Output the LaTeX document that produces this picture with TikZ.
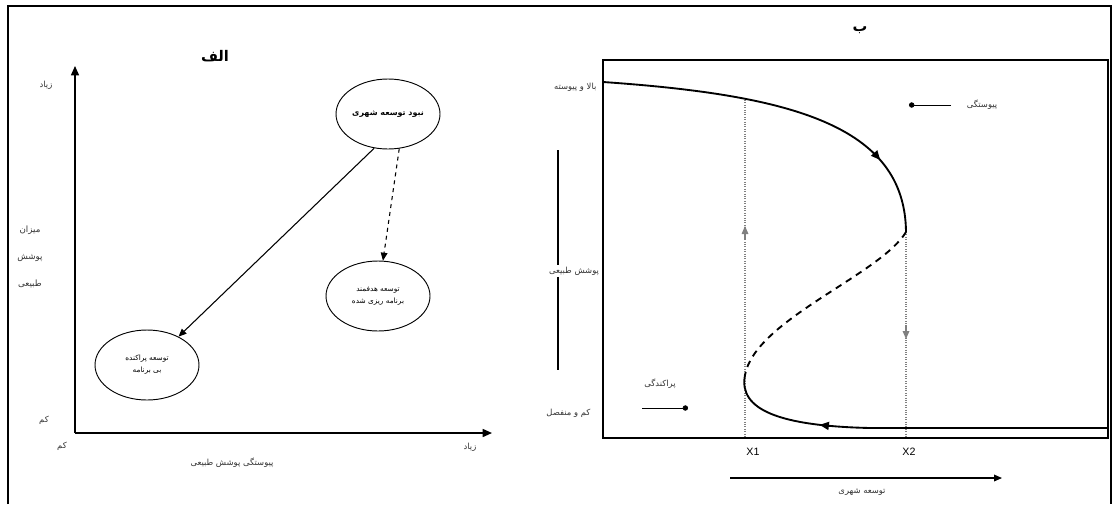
\documentclass[tikz,border=0pt]{standalone}
\usepackage{fontspec}
\setmainfont{Liberation Sans}
\newfontfamily\fa[Script=Arabic]{DejaVu Sans}
\TeXXeTstate=1
\usetikzlibrary{arrows.meta,shapes.geometric,decorations.markings}
\newcommand{\fat}[1]{{\fa\beginR #1\endR}}
\begin{document}
\begin{tikzpicture}[x=0.75pt,y=-0.75pt,
  lbl/.style={font=\fontsize{6.3}{8}\selectfont, inner sep=1pt, text=black!80},
  ttl/.style={font=\fontsize{11}{13}\bfseries\selectfont, inner sep=1pt},
  ell/.style={ellipse, draw, line width=0.7pt, minimum width=104*0.75pt, minimum height=70*0.75pt, align=center, font=\fontsize{5.5}{9}\selectfont, inner sep=0pt},
  axis/.style={line width=1.1pt, -{Triangle[length=7pt,width=6pt]}},
  conn/.style={line width=0.8pt, -{Triangle[length=6pt,width=5pt]}},
  curve/.style={line width=1.4pt},
  guide/.style={gray, line width=0.8pt, densely dotted},
  ghead/.style={gray, -{Triangle[length=6pt,width=5pt]}, line width=0.8pt}
]
\useasboundingbox (0,0) rectangle (1112,504);
% outer frame
\draw[line width=1.4pt] (8,504) -- (8,6) -- (1112,6);
\draw[line width=1.4pt] (1111,6) -- (1111,504);

% ---------- panel a ----------
\node[ttl] (ta) at (215,56) {\fat{الف}};
\coordinate (O) at (75,433);
\coordinate (Ytip) at (75,66);
\coordinate (Xtip) at (492,433);
\draw[axis] (O) -- (Ytip);
\draw[axis] (O) -- (Xtip);
\node[lbl] (yhigh) at (46,85) {\fat{زیاد}};
\node[lbl] (ylow) at (44,420) {\fat{کم}};
\node[lbl] (xlow) at (62,446) {\fat{کم}};
\node[lbl] (xhigh) at (470,447) {\fat{زیاد}};
\node[lbl] (xlab) at (232,463) {\fat{پیوستگی پوشش طبیعی}};
\node[lbl, align=center, font=\fontsize{6.5}{20}\selectfont] (ylab) at (30,257) {\fat{میزان}\\\fat{پوشش}\\\fat{طبیعی}};

\node[ell, font=\fontsize{6}{9}\bfseries\selectfont] (top) at (388,114) {\fat{نبود توسعه شهری}};
\node[ell] (mid) at (378,296) {\fat{توسعه هدفمند}\\\fat{برنامه ریزی شده}};
\node[ell] (bot) at (147,365) {\fat{توسعه پراکنده}\\\fat{بی برنامه}};
\draw[conn] (top.-112) -- (bot.42);
\draw[conn, dashed] (top.-72) -- (mid.82);

% ---------- panel b ----------
\node[ttl] (tb) at (860,30) {\fat{ب}};
\draw[line width=1.3pt] (603,60) -- (603,438) -- (1108,438) -- (1108,60) -- cycle;

\node[lbl, anchor=east] (hi) at (598,87) {\fat{بالا و پیوسته}};
\node[lbl] (nat) at (574,271) {\fat{پوشش طبیعی}};
\node[lbl, anchor=east] (lo) at (592,413) {\fat{کم و منفصل}};
\coordinate (va) at (558,150);
\coordinate (vb) at (558,370);
\draw[line width=1.6pt] (va) -- (nat.north -| va);
\draw[line width=1.6pt] (nat.south -| vb) -- (vb);

% legend
\node[lbl] (cont) at (982,105) {\fat{پیوستگی}};
\coordinate (contA) at (909,105);
\draw[line width=0.5pt, -{Circle[length=4pt]}] (cont.west) ++(-14,0) coordinate (contB) -- (contA);
\node[lbl] (disp) at (660,384) {\fat{پراکندگی}};
\coordinate (dispA) at (642,408);
\coordinate (dispB) at (688,408);
\draw[line width=0.5pt, -{Circle[length=4pt]}] (dispA) -- (dispB);

% guides
\coordinate (g1t) at (745,100);
\coordinate (g1b) at (745,437);
\coordinate (g2t) at (906,232);
\coordinate (g2b) at (906,437);
\draw[guide] (g1t) -- (g1b);
\draw[guide] (g2t) -- (g2b);
\draw[ghead] (745,240) -- (745,226);
\draw[ghead] (906,325) -- (906,339);

% curve
\coordinate (c0) at (603,82);
\coordinate (c1) at (906,232);
\coordinate (c2) at (745,375);
\coordinate (c3) at (1108,428);
\draw[curve, postaction={decorate}, decoration={markings, mark=at position 0.79 with {\arrow{Triangle[length=7pt,width=6pt]}}}]
  (c0) .. controls (790,95) and (905,125) .. (c1);
\draw[curve, dashed, dash pattern=on 5pt off 4pt] (c1) .. controls (880,275) and (755,320) .. (c2);
\draw[curve, postaction={decorate}, decoration={markings, mark=at position 0.74 with {\arrow{Triangle[length=7pt,width=6pt]}}}]
  (c3) -- (870,428) .. controls (780,426) and (738,410) .. (c2);

\node[font=\fontsize{8}{10}\selectfont] (x1) at (753,452) {X1};
\node[font=\fontsize{8}{10}\selectfont] (x2) at (909,452) {X2};
\coordinate (ua) at (730,478);
\coordinate (ub) at (1002,478);
\draw[line width=1pt, -{Triangle[length=6pt,width=5pt]}] (ua) -- (ub);
\node[lbl] (urb) at (862,492) {\fat{توسعه شهری}};
\end{tikzpicture}
\end{document}
